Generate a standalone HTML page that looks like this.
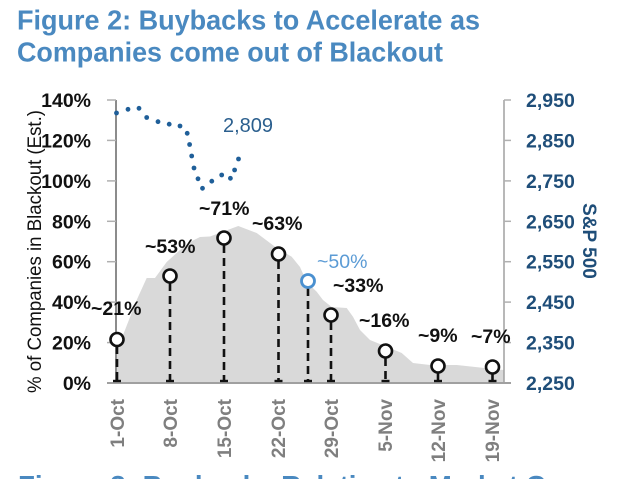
<!DOCTYPE html>
<html>
<head>
<meta charset="utf-8">
<style>
html,body{margin:0;padding:0;background:#fff;}
svg{display:block;}
text{font-family:"Liberation Sans",Arial,sans-serif;}
</style>
</head>
<body>
<svg width="625" height="479" viewBox="0 0 625 479" xmlns="http://www.w3.org/2000/svg">
  <!-- Title -->
  <text x="17" y="29.5" font-size="28" font-weight="bold" fill="#4a89c0" textLength="463" lengthAdjust="spacingAndGlyphs">Figure 2: Buybacks to Accelerate as</text>
  <text x="17" y="61.5" font-size="28" font-weight="bold" fill="#4a89c0" textLength="426" lengthAdjust="spacingAndGlyphs">Companies come out of Blackout</text>
  <text x="18" y="495" font-size="28" font-weight="bold" fill="#4a89c0" textLength="560" lengthAdjust="spacingAndGlyphs">Figure 3: Buybacks Relative to Market Cap</text>

  <!-- Gray area -->
  <polygon fill="#d9d9d9" points="116,383 116,352 125,330 136.7,300 146.7,278 155,278 166.7,262 180,250 190,242 200,237 210,236.5 238.3,226 256.7,233 276.7,248 291.7,256.7 300,267 306.7,282 316.7,291.7 323,300 331.7,307 346.7,308 353,316.7 360,330 370,340 386.7,346.7 401.7,353 413,363 430,365 456.7,365 473,366.7 486.7,368.3 504,370 504,383"/>

  <!-- Axes -->
  <line x1="116" y1="100" x2="116" y2="383" stroke="#8c8c8c" stroke-width="2"/>
  <line x1="504" y1="100" x2="504" y2="383" stroke="#a0a0a0" stroke-width="1.5"/>
  <line x1="107" y1="383" x2="511" y2="383" stroke="#a0a0a0" stroke-width="2"/>
  <g stroke="#b0b0b0" stroke-width="1.5">
    <line x1="107" y1="100" x2="116" y2="100"/>
    <line x1="107" y1="140.4" x2="116" y2="140.4"/>
    <line x1="107" y1="180.9" x2="116" y2="180.9"/>
    <line x1="107" y1="221.3" x2="116" y2="221.3"/>
    <line x1="107" y1="261.7" x2="116" y2="261.7"/>
    <line x1="107" y1="302.1" x2="116" y2="302.1"/>
    <line x1="107" y1="342.6" x2="116" y2="342.6"/>
    <line x1="504" y1="100" x2="511" y2="100"/>
    <line x1="504" y1="140.4" x2="511" y2="140.4"/>
    <line x1="504" y1="180.9" x2="511" y2="180.9"/>
    <line x1="504" y1="221.3" x2="511" y2="221.3"/>
    <line x1="504" y1="261.7" x2="511" y2="261.7"/>
    <line x1="504" y1="302.1" x2="511" y2="302.1"/>
    <line x1="504" y1="342.6" x2="511" y2="342.6"/>
  </g>

  <!-- Left tick labels -->
  <g font-size="19.5" font-weight="bold" fill="#111" text-anchor="end">
    <text x="91" y="107">140%</text>
    <text x="91" y="147.4">120%</text>
    <text x="91" y="187.9">100%</text>
    <text x="91" y="228.3">80%</text>
    <text x="91" y="268.7">60%</text>
    <text x="91" y="309.1">40%</text>
    <text x="91" y="349.6">20%</text>
    <text x="91" y="390">0%</text>
  </g>

  <!-- Right tick labels -->
  <g font-size="19.5" font-weight="bold" fill="#1f4e79">
    <text x="526" y="107">2,950</text>
    <text x="526" y="147.4">2,850</text>
    <text x="526" y="187.9">2,750</text>
    <text x="526" y="228.3">2,650</text>
    <text x="526" y="268.7">2,550</text>
    <text x="526" y="309.1">2,450</text>
    <text x="526" y="349.6">2,350</text>
    <text x="526" y="390">2,250</text>
  </g>

  <!-- Axis titles -->
  <text transform="translate(41,251.5) rotate(-90)" font-size="19" fill="#111" text-anchor="middle" textLength="283" lengthAdjust="spacingAndGlyphs">% of Companies in Blackout (Est.)</text>
  <text transform="translate(583,241) rotate(90)" font-size="19" font-weight="bold" fill="#1f4e79" text-anchor="middle">S&amp;P 500</text>

  <!-- X labels -->
  <g font-size="19" font-weight="bold" fill="#7f7f7f" text-anchor="end">
    <text transform="translate(124,399) rotate(-90)">1-Oct</text>
    <text transform="translate(177,399) rotate(-90)">8-Oct</text>
    <text transform="translate(231,399) rotate(-90)">15-Oct</text>
    <text transform="translate(285,399) rotate(-90)">22-Oct</text>
    <text transform="translate(338,399) rotate(-90)">29-Oct</text>
    <text transform="translate(392,399) rotate(-90)">5-Nov</text>
    <text transform="translate(445,399) rotate(-90)">12-Nov</text>
    <text transform="translate(499,399) rotate(-90)">19-Nov</text>
  </g>

  <!-- S&P dotted line -->
  <g fill="#1f5f99">
    <circle cx="116.5" cy="113" r="2.4"/>
    <circle cx="128" cy="109.3" r="2.4"/>
    <circle cx="139" cy="108.3" r="2.4"/>
    <circle cx="146.7" cy="117.5" r="2.4"/>
    <circle cx="158" cy="121.7" r="2.4"/>
    <circle cx="169.2" cy="124.2" r="2.4"/>
    <circle cx="180" cy="126" r="2.4"/>
    <circle cx="187.2" cy="133.3" r="2.4"/>
    <circle cx="189.6" cy="144.5" r="2.4"/>
    <circle cx="191.7" cy="156" r="2.4"/>
    <circle cx="194" cy="168" r="2.4"/>
    <circle cx="198" cy="178.8" r="2.4"/>
    <circle cx="202.5" cy="188.3" r="2.4"/>
    <circle cx="211.8" cy="181.2" r="2.4"/>
    <circle cx="221.7" cy="175" r="2.4"/>
    <circle cx="230.4" cy="178.3" r="2.4"/>
    <circle cx="234.6" cy="170" r="2.4"/>
    <circle cx="238.5" cy="159" r="2.4"/>
  </g>
  <text x="223" y="132" font-size="20" fill="#2b5f8e">2,809</text>

  <!-- Stems -->
  <g stroke="#111" stroke-width="2.6" stroke-dasharray="8 5" fill="none">
    <line x1="117" y1="346" x2="117" y2="381"/>
    <line x1="170" y1="283" x2="170" y2="381"/>
    <line x1="224" y1="245" x2="224" y2="381"/>
    <line x1="278.5" y1="261" x2="278.5" y2="381"/>
    <line x1="308" y1="288" x2="308" y2="381"/>
    <line x1="331" y1="322" x2="331" y2="381"/>
    <line x1="385.5" y1="358" x2="385.5" y2="381"/>
    <line x1="438" y1="373" x2="438" y2="381"/>
    <line x1="492.5" y1="374" x2="492.5" y2="381"/>
  </g>
  <g stroke="#111" stroke-width="2.4">
    <line x1="113" y1="381" x2="121" y2="381"/>
    <line x1="166" y1="381" x2="174" y2="381"/>
    <line x1="220" y1="381" x2="228" y2="381"/>
    <line x1="274.5" y1="381" x2="282.5" y2="381"/>
    <line x1="304" y1="381" x2="312" y2="381"/>
    <line x1="327" y1="381" x2="335" y2="381"/>
    <line x1="381.5" y1="381" x2="389.5" y2="381"/>
    <line x1="434" y1="381" x2="442" y2="381"/>
    <line x1="488.5" y1="381" x2="496.5" y2="381"/>
  </g>

  <!-- Markers -->
  <g fill="#fff" stroke="#111" stroke-width="2.6">
    <circle cx="117" cy="339.5" r="6.5"/>
    <circle cx="170" cy="276" r="6.5"/>
    <circle cx="224" cy="238" r="6.5"/>
    <circle cx="278.5" cy="254" r="6.5"/>
    <circle cx="331" cy="315" r="6.5"/>
    <circle cx="385.5" cy="351" r="6.5"/>
    <circle cx="438" cy="366" r="6.5"/>
    <circle cx="492.5" cy="367" r="6.5"/>
  </g>
  <circle cx="308" cy="281" r="6.5" fill="#fff" stroke="#4a90d0" stroke-width="2.8"/>

  <!-- Point labels -->
  <g font-size="19.5" font-weight="bold" fill="#111">
    <text x="91" y="315">~21%</text>
    <text x="145" y="253">~53%</text>
    <text x="199" y="215">~71%</text>
    <text x="252" y="230">~63%</text>
    <text x="333" y="292">~33%</text>
    <text x="359" y="327">~16%</text>
    <text x="418" y="342">~9%</text>
    <text x="471" y="343">~7%</text>
  </g>
  <text x="317" y="268" font-size="19.5" fill="#5b9bd5">~50%</text>
</svg>
</body>
</html>
